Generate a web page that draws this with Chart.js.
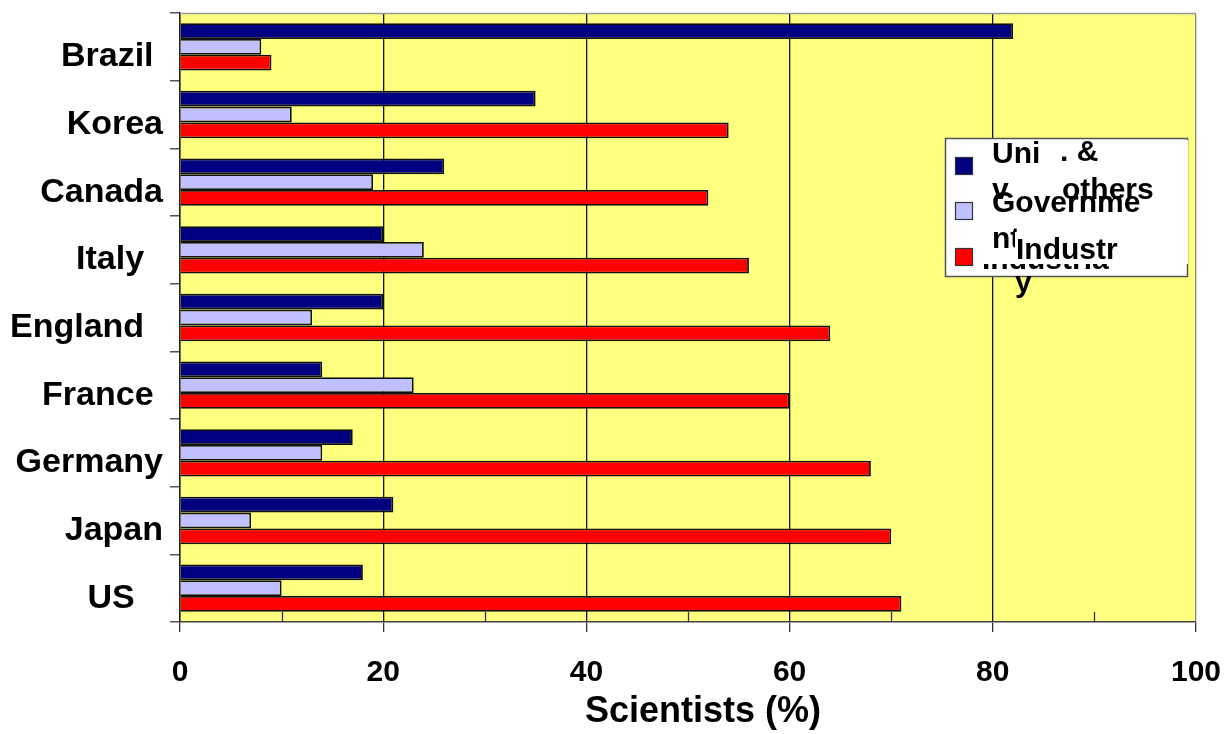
<!DOCTYPE html>
<html>
<head>
<meta charset="utf-8">
<script src="https://cdn.jsdelivr.net/npm/chart.js@4/dist/chart.umd.min.js"></script>
<style>
  html, body { margin: 0; padding: 0; background: #fff; }
  #wrap { width: 1224px; height: 734px; }
</style>
</head>
<body>
<div id="wrap"><canvas id="c" width="1224" height="734"></canvas></div>
<script>
// Country names; trailing spaces keep the slide's ragged label alignment
const countryLabels = ['Brazil ', 'Korea', 'Canada', 'Italy  ', 'England  ', 'France ', 'Germany', 'Japan', 'US   '];

// Share of scientists by employer (%)
const univOthers = [82, 35, 26, 20, 20, 14, 17, 21, 18];
const government = [8, 11, 19, 24, 13, 23, 14, 7, 10];
const industry   = [9, 54, 52, 56, 64, 60, 68, 70, 71];

const seriesNames = ['Univ. & others', 'Government', 'Industry'];
const seriesColors = ['#000080', '#C0C0FF', '#FF0000'];

const xMin = 0, xMax = 100, xStep = 20;
const minorTicks = [10, 30, 50, 70, 90];

const FONT = 'Arial, "Liberation Sans", sans-serif';

// Yellow plot background, gray frame, inner minor ticks
const plotFrame = {
  id: 'plotFrame',
  beforeDraw(chart) {
    const { ctx, chartArea: a } = chart;
    ctx.save();
    ctx.fillStyle = '#FFFF80';
    ctx.fillRect(a.left, a.top, a.right - a.left, a.bottom - a.top);
    ctx.restore();
  },
  beforeDatasetsDraw(chart) {
    const { ctx, chartArea: a, scales } = chart;
    ctx.save();
    ctx.strokeStyle = '#333';
    ctx.lineWidth = 1.3;
    minorTicks.forEach(v => {
      const x = Math.round(scales.x.getPixelForValue(v)) + 0.5;
      ctx.beginPath();
      ctx.moveTo(x, a.bottom);
      ctx.lineTo(x, a.bottom - 10);
      ctx.stroke();
    });
    ctx.strokeStyle = '#999';
    ctx.lineWidth = 1.5;
    ctx.beginPath();
    ctx.moveTo(a.left, a.top + 0.5);
    ctx.lineTo(a.right, a.top + 0.5);
    ctx.stroke();
    ctx.restore();
  }
};

// Legend box with its overlapping, wrapped item text
const slideLegend = {
  id: 'slideLegend',
  afterDraw(chart) {
    const { ctx } = chart;
    const colors = chart.data.datasets.map(d => d.backgroundColor);
    const bx = 945, by = 138;
    ctx.save();
    ctx.fillStyle = '#fff';
    ctx.fillRect(bx, by, 242, 138);
    ctx.strokeStyle = '#555';
    ctx.lineWidth = 1.5;
    ctx.strokeRect(bx + 0.5, by + 0.5, 242, 138);

    ctx.font = 'bold 30px ' + FONT;
    ctx.textBaseline = 'alphabetic';
    ctx.fillStyle = '#000';
    // first copy of the third item, mostly hidden behind the text panel
    ctx.fillText('Industria', bx + 37, by + 131);

    ctx.fillStyle = '#fff';
    ctx.fillRect(bx + 33, by + 2, 210, 124);

    // colour swatches
    [19, 64, 110].forEach((dy, i) => {
      ctx.fillStyle = colors[i];
      ctx.fillRect(bx + 10, by + dy, 18, 18);
      ctx.strokeStyle = '#333';
      ctx.lineWidth = 1.2;
      ctx.strokeRect(bx + 10.5, by + dy + 0.5, 17, 17);
    });

    ctx.fillStyle = '#000';
    ctx.fillText('Uni', bx + 47, by + 25);
    ctx.fillText('. &', bx + 115, by + 23);
    ctx.fillText('v', bx + 47, by + 61);
    ctx.fillText('others', bx + 117, by + 61);
    ctx.fillText('Governme', bx + 47, by + 74);
    ctx.fillText('nt', bx + 47, by + 110);
    ctx.fillStyle = '#fff';
    ctx.fillRect(bx + 70, by + 94, 172, 32);
    ctx.fillStyle = '#000';
    ctx.fillText('Industr', bx + 71, by + 121);
    ctx.fillText('y', bx + 70, by + 154);
    ctx.restore();
  }
};

const gridColor = ctx => {
  const v = ctx.tick ? ctx.tick.value : null;
  if (v === xMax) return '#888';
  if (v === xMin) return '#222';
  return '#111';
};

new Chart(document.getElementById('c'), {
  type: 'bar',
  data: {
    labels: countryLabels,
    datasets: [
      { label: seriesNames[0], data: univOthers, backgroundColor: seriesColors[0] },
      { label: seriesNames[1], data: government, backgroundColor: seriesColors[1] },
      { label: seriesNames[2], data: industry, backgroundColor: seriesColors[2] }
    ]
  },
  options: {
    indexAxis: 'y',
    responsive: false,
    animation: false,
    devicePixelRatio: 1,
    layout: { padding: { top: 13, right: 28, left: 0, bottom: 0 } },
    datasets: {
      bar: {
        categoryPercentage: 0.7,
        barPercentage: 1.0,
        borderColor: '#111',
        borderWidth: 1.8,
        borderSkipped: 'start'
      }
    },
    plugins: {
      legend: { display: false },
      tooltip: { enabled: false },
      title: { display: false }
    },
    scales: {
      x: {
        type: 'linear',
        position: 'bottom',
        min: xMin,
        max: xMax,
        ticks: {
          stepSize: xStep,
          color: '#000',
          padding: 23,
          font: { family: FONT, size: 30, weight: 'bold' }
        },
        grid: {
          color: gridColor,
          tickColor: '#333',
          lineWidth: 1.3,
          tickLength: 10,
          drawTicks: true
        },
        border: { display: true, color: '#444', width: 1.5 },
        title: {
          display: true,
          text: '   Scientists (%)',
          color: '#000',
          font: { family: FONT, size: 36, weight: 'bold' },
          padding: { top: 0, bottom: 0 }
        },
        afterFit(s) {
          s.height = 112;
          s.paddingLeft = 0;
          s.paddingRight = 0;
        }
      },
      y: {
        type: 'category',
        position: 'left',
        offset: true,
        ticks: {
          color: '#000',
          padding: 7,
          labelOffset: 10,
          autoSkip: false,
          font: { family: FONT, size: 34, weight: 'bold' }
        },
        grid: {
          offset: true,
          drawOnChartArea: false,
          drawTicks: true,
          tickLength: 10,
          color: '#555',
          lineWidth: 1.5
        },
        border: { display: true, color: '#222', width: 1.5 },
        afterFit(s) {
          s.width = 180;
          s.paddingTop = 0;
          s.paddingBottom = 0;
        }
      }
    }
  },
  plugins: [plotFrame, slideLegend]
});
</script>
</body>
</html>
